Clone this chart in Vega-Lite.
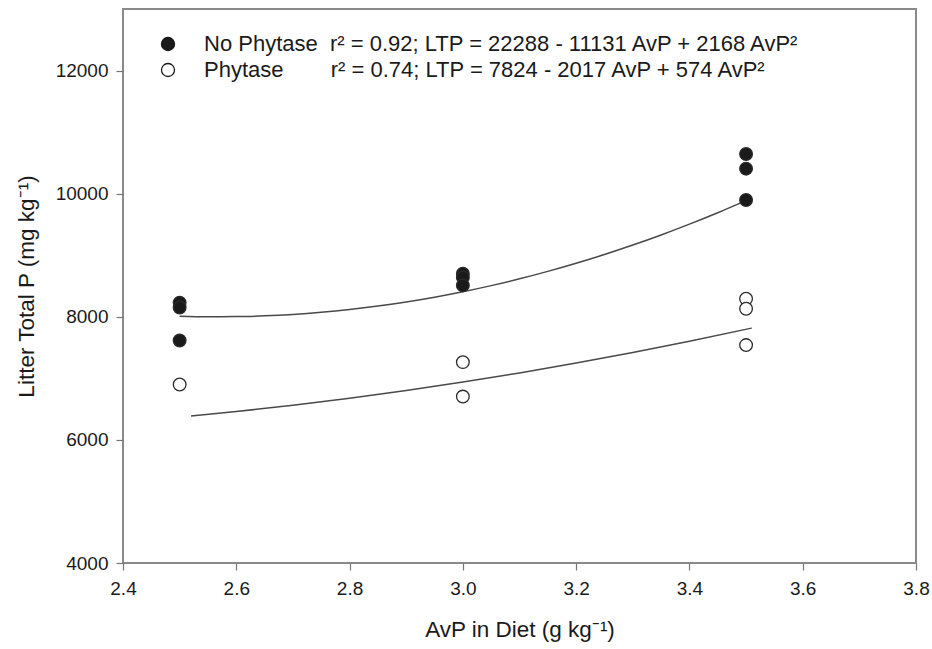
{
  "$schema": "https://vega.github.io/schema/vega-lite/v6.json",
  "autosize": "none",
  "width": 793,
  "height": 554,
  "padding": {"left": 123, "top": 9, "right": 16, "bottom": 86},
  "background": "white",
  "config": {
    "view": {"stroke": "#8a8a8a", "strokeWidth": 2},
    "font": "Liberation Sans",
    "axis": {
      "grid": false,
      "domain": false,
      "tickColor": "#777",
      "tickSize": 7,
      "tickWidth": 1.2,
      "labelFont": "Liberation Sans",
      "labelFontSize": 19,
      "labelColor": "#1a1a1a",
      "titleFont": "Liberation Sans",
      "titleFontSize": 22.5,
      "titleFontWeight": "normal",
      "titleColor": "#1a1a1a"
    }
  },
  "datasets": {
    "points": [
      {"avp": 2.5, "ltp": 8230, "series": "No Phytase"},
      {"avp": 2.5, "ltp": 8150, "series": "No Phytase"},
      {"avp": 2.5, "ltp": 7615, "series": "No Phytase"},
      {"avp": 3.0, "ltp": 8700, "series": "No Phytase"},
      {"avp": 3.0, "ltp": 8640, "series": "No Phytase"},
      {"avp": 3.0, "ltp": 8510, "series": "No Phytase"},
      {"avp": 3.5, "ltp": 10645, "series": "No Phytase"},
      {"avp": 3.5, "ltp": 10406, "series": "No Phytase"},
      {"avp": 3.5, "ltp": 9897, "series": "No Phytase"},
      {"avp": 2.5, "ltp": 6900, "series": "Phytase"},
      {"avp": 3.0, "ltp": 7263, "series": "Phytase"},
      {"avp": 3.0, "ltp": 6704, "series": "Phytase"},
      {"avp": 3.5, "ltp": 8293, "series": "Phytase"},
      {"avp": 3.5, "ltp": 8130, "series": "Phytase"},
      {"avp": 3.5, "ltp": 7540, "series": "Phytase"}
    ],
    "curves": [
      {"avp": 2.50, "ltp": 8010.5, "series": "No Phytase"},
      {"avp": 2.55, "ltp": 8001.4, "series": "No Phytase"},
      {"avp": 2.60, "ltp": 8003.1, "series": "No Phytase"},
      {"avp": 2.65, "ltp": 8015.6, "series": "No Phytase"},
      {"avp": 2.70, "ltp": 8039.0, "series": "No Phytase"},
      {"avp": 2.75, "ltp": 8073.3, "series": "No Phytase"},
      {"avp": 2.80, "ltp": 8118.3, "series": "No Phytase"},
      {"avp": 2.85, "ltp": 8174.2, "series": "No Phytase"},
      {"avp": 2.90, "ltp": 8241.0, "series": "No Phytase"},
      {"avp": 2.95, "ltp": 8318.6, "series": "No Phytase"},
      {"avp": 3.00, "ltp": 8407.0, "series": "No Phytase"},
      {"avp": 3.05, "ltp": 8506.3, "series": "No Phytase"},
      {"avp": 3.10, "ltp": 8616.4, "series": "No Phytase"},
      {"avp": 3.15, "ltp": 8737.3, "series": "No Phytase"},
      {"avp": 3.20, "ltp": 8869.1, "series": "No Phytase"},
      {"avp": 3.25, "ltp": 9011.8, "series": "No Phytase"},
      {"avp": 3.30, "ltp": 9165.2, "series": "No Phytase"},
      {"avp": 3.35, "ltp": 9329.5, "series": "No Phytase"},
      {"avp": 3.40, "ltp": 9504.7, "series": "No Phytase"},
      {"avp": 3.45, "ltp": 9690.7, "series": "No Phytase"},
      {"avp": 3.50, "ltp": 9887.5, "series": "No Phytase"},
      {"avp": 2.52, "ltp": 6386.3, "series": "Phytase"},
      {"avp": 2.60, "ltp": 6460.0, "series": "Phytase"},
      {"avp": 2.70, "ltp": 6562.6, "series": "Phytase"},
      {"avp": 2.80, "ltp": 6676.6, "series": "Phytase"},
      {"avp": 2.90, "ltp": 6802.0, "series": "Phytase"},
      {"avp": 3.00, "ltp": 6939.0, "series": "Phytase"},
      {"avp": 3.10, "ltp": 7087.4, "series": "Phytase"},
      {"avp": 3.20, "ltp": 7247.4, "series": "Phytase"},
      {"avp": 3.30, "ltp": 7418.8, "series": "Phytase"},
      {"avp": 3.40, "ltp": 7601.6, "series": "Phytase"},
      {"avp": 3.51, "ltp": 7816.1, "series": "Phytase"}
    ]
  },
  "encoding": {
    "x": {
      "field": "avp", "type": "quantitative",
      "scale": {"domain": [2.4, 3.8], "nice": false, "zero": false},
      "axis": {"values": [2.4, 2.6, 2.8, 3.0, 3.2, 3.4, 3.6, 3.8], "format": ".1f", "title": "AvP in Diet (g kg⁻¹)", "labelPadding": 9, "titlePadding": 20, "labelFlush": false}
    },
    "y": {
      "field": "ltp", "type": "quantitative",
      "scale": {"domain": [4000, 13000], "nice": false, "zero": false},
      "axis": {"values": [4000, 6000, 8000, 10000, 12000], "format": "d", "title": "Litter Total P (mg kg⁻¹)", "labelPadding": 8, "titlePadding": 17}
    }
  },
  "layer": [
    {
      "data": {"name": "curves"},
      "mark": {"type": "line", "color": "#4a4a4a", "strokeWidth": 1.5, "interpolate": "monotone"},
      "encoding": {"detail": {"field": "series"}}
    },
    {
      "data": {"name": "points"},
      "mark": {"type": "point", "shape": "circle", "filled": true, "size": 160, "stroke": "#2a2a2a", "strokeWidth": 1.3, "opacity": 1},
      "encoding": {
        "fill": {
          "field": "series", "type": "nominal",
          "scale": {"domain": ["No Phytase", "Phytase"], "range": ["#1a1a1a", "#ffffff"]},
          "legend": {
            "title": null,
            "orient": "none",
            "legendX": 34,
            "legendY": 24,
            "symbolType": "circle",
            "symbolSize": 170,
            "symbolStrokeColor": "#1a1a1a",
            "symbolStrokeWidth": 1.3,
            "labelFont": "Liberation Sans",
            "labelFontSize": 22,
            "labelColor": "#1a1a1a",
            "labelOffset": 25,
            "labelLimit": 900,
            "rowPadding": 4,
            "labelExpr": "datum.label == 'No Phytase' ? 'No Phytase\u00a0\u00a0r² = 0.92; LTP = 22288 - 11131 AvP + 2168 AvP²' : 'Phytase\u00a0\u00a0\u00a0\u00a0\u00a0\u00a0\u00a0\u2009r² = 0.74; LTP = 7824 - 2017 AvP + 574 AvP²'"
          }
        }
      }
    }
  ]
}
